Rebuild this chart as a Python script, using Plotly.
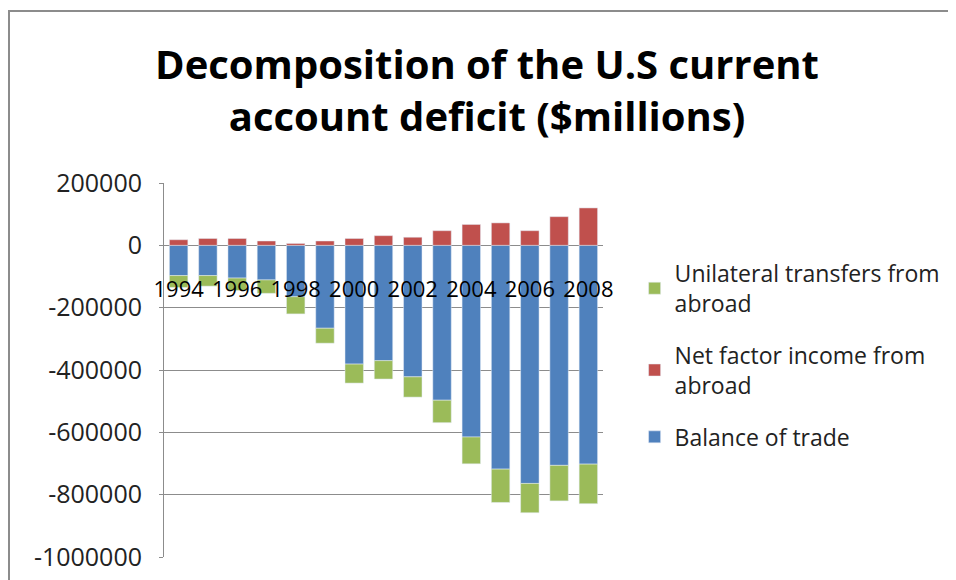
import plotly.graph_objects as go

years = [str(y) for y in range(1994, 2009)]
tick_years = years[::2]
y_ticks = [200000, 0, -200000, -400000, -600000, -800000, -1000000]

# $ millions
balance_of_trade = [-97000, -97000, -105000, -111000, -165000, -266000, -381000, -370000,
                    -422000, -497000, -615000, -718000, -764000, -706000, -702000]
net_factor_income = [18000, 22000, 22000, 14000, 6000, 14000, 22000, 31000,
                     26000, 47000, 67000, 72000, 47000, 92000, 120000]
unilateral_transfers = [-38000, -34000, -40000, -43000, -55000, -48000, -61000, -59000,
                        -65000, -72000, -86000, -107000, -94000, -114000, -127000]

FONT = "Open Sans"
GRID = "#8c8c8c"

fig = go.Figure()
fig.add_trace(go.Bar(x=years, y=balance_of_trade, name="Balance of trade",
                     marker=dict(color="#4F81BD"), legendgroup="bal", legendrank=3))
fig.add_trace(go.Bar(x=years, y=net_factor_income, name="Net factor income from<br>abroad",
                     marker=dict(color="#C0504D"), legendgroup="nfi", legendrank=2))
fig.add_trace(go.Bar(x=years, y=unilateral_transfers, name="Unilateral transfers from<br>abroad",
                     marker=dict(color="#9BBB59"), legendgroup="ut", legendrank=1))

# page body has an 8px margin, so the figure is 8px smaller than the window
W, H = 948, 572
ML, MR, MT, MB = 156, 353, 175, 23
plot_w = W - ML - MR
plot_h = H - MT - MB

fig.update_layout(
    width=W,
    height=H,
    barmode="relative",
    bargap=0.37,
    paper_bgcolor="white",
    plot_bgcolor="white",
    margin=dict(l=ML, r=MR, t=MT, b=MB, autoexpand=False),
    font=dict(family=FONT, color="black"),
    title=dict(
        text="<b>Decomposition of the U.S current<br>account deficit ($millions)</b>",
        font=dict(family=FONT, size=40, color="black"),
        x=479 / W,
        xanchor="center",
        xref="container",
        y=0.876,
        yanchor="top",
    ),
    legend=dict(
        x=1.072,
        y=0.816,
        xanchor="left",
        yanchor="top",
        traceorder="grouped",
        tracegroupgap=19,
        font=dict(family=FONT, size=23, color="#222"),
        bgcolor="rgba(0,0,0,0)",
    ),
    xaxis=dict(
        type="category",
        tickvals=tick_years,
        ticktext=tick_years,
        anchor="free",
        position=1000000 / 1200000,
        showline=False,
        showgrid=False,
        ticks="",
        ticklabelstandoff=29,
        automargin=False,
        tickfont=dict(family=FONT, size=22, color="black"),
    ),
    yaxis=dict(
        range=[-1000000, 200000],
        tickvals=y_ticks,
        ticktext=[str(v) for v in y_ticks],
        showgrid=True,
        gridcolor=GRID,
        gridwidth=1,
        zeroline=False,
        showline=True,
        linecolor=GRID,
        linewidth=1,
        ticks="outside",
        ticklen=4,
        tickcolor=GRID,
        ticklabelstandoff=12,
        automargin=False,
        tickfont=dict(family=FONT, size=25, color="#222"),
    ),
    shapes=[
        dict(type="rect", xref="paper", yref="paper",
             x0=(1 - ML) / plot_w, x1=1.9, y0=-0.3, y1=1 + (MT - 3) / plot_h,
             line=dict(color=GRID, width=2), fillcolor="rgba(0,0,0,0)", layer="below"),
    ],
)

fig.write_html("out.html")
